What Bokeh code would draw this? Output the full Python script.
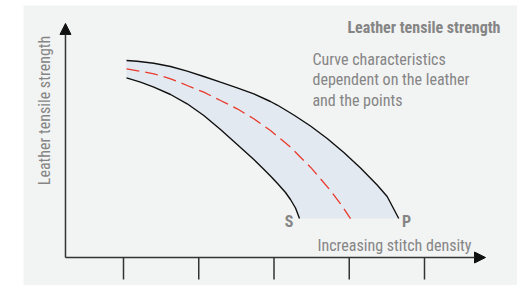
from bokeh.plotting import figure
from bokeh.models import Range1d, Label, Arrow, NormalHead, BoxAnnotation
from bokeh.embed import file_html
from bokeh.resources import INLINE

# ---- data (arbitrary units: x ticks at 1..5, y measured from the x-axis) ----
tick_positions = [1, 2, 3, 4, 5]

upper_x = [1.040, 1.182, 1.403, 1.625, 1.846, 2.067, 2.289, 2.511, 2.732, 2.953,
           3.043, 3.263, 3.485, 3.707, 3.928, 4.150, 4.371, 4.504, 4.658]
upper_y = [7.912, 7.884, 7.803, 7.671, 7.482, 7.269, 7.040, 6.815, 6.574, 6.265,
           6.124, 5.723, 5.281, 4.779, 4.217, 3.594, 2.912, 2.450, 1.566]

mid_x = [1.040, 1.403, 1.625, 1.846, 2.067, 2.289, 2.511, 2.732, 2.953, 3.086,
         3.219, 3.352, 3.485, 3.618, 3.751, 3.884, 4.017]
mid_y = [7.578, 7.378, 7.177, 6.908, 6.639, 6.305, 5.972, 5.570, 5.100, 4.767,
         4.430, 4.028, 3.627, 3.161, 2.691, 2.157, 1.566]

lower_x = [1.040, 1.226, 1.403, 1.625, 1.846, 2.067, 2.289, 2.511, 2.732, 2.847,
           2.953, 3.047, 3.153, 3.219, 3.286, 3.339]
lower_y = [7.217, 7.040, 6.839, 6.546, 6.173, 5.703, 5.141, 4.538, 3.936, 3.594,
           3.273, 2.972, 2.610, 2.329, 1.988, 1.566]

title = "Leather tensile strength"
note_lines = ["Curve characteristics", "dependent on the leather", "and the points"]
x_label = "Increasing stitch density"
y_label = "Leather tensile strength"

# ---- layout / style ----
FONT = "Roboto Condensed, Roboto"
GRAY = "#858585"
AX = "#333333"
origin_x = 0.229
x_arrow_end = 5.811
y_arrow_end = 9.40
tick_bottom = -0.884

p = figure(width=517, height=285, output_backend="svg", toolbar_location=None,
           x_range=Range1d(-0.6346, 6.236), y_range=Range1d(-1.124, 10.321),
           min_border=0, min_border_left=0, min_border_right=0,
           min_border_top=0, min_border_bottom=0)
p.axis.visible = False
p.grid.visible = False
p.outline_line_color = None
p.background_fill_color = "white"
p.border_fill_color = "white"

p.add_layout(BoxAnnotation(left=-0.329, top=10.12, fill_color="#f2f3f3",
                           fill_alpha=1, line_color=None, level="underlay"))

band_x = upper_x + lower_x[::-1]
band_y = upper_y + lower_y[::-1]
p.patch(band_x, band_y, fill_color="#e3e9f0", line_color=None)

p.line(upper_x, upper_y, line_color="#111111", line_width=1.4)
p.line(lower_x, lower_y, line_color="#111111", line_width=1.4)
p.line(mid_x, mid_y, line_color="#e8392b", line_width=1.3, line_dash="13 6")

p.segment(x0=tick_positions, y0=[0] * len(tick_positions),
          x1=tick_positions, y1=[tick_bottom] * len(tick_positions),
          line_color=AX, line_width=1.5)
p.add_layout(Arrow(end=NormalHead(size=11, fill_color="#111111", line_color="#111111"),
                   x_start=origin_x, y_start=0, x_end=origin_x, y_end=y_arrow_end,
                   line_color=AX, line_width=1.5))
p.add_layout(Arrow(end=NormalHead(size=11, fill_color="#111111", line_color="#111111"),
                   x_start=origin_x, y_start=0, x_end=x_arrow_end, y_end=0,
                   line_color=AX, line_width=1.5))

p.add_layout(Label(x=6.010, y=9.237, text=title, text_font=FONT, text_font_style="bold",
                   text_font_size="16px", text_color=GRAY, text_align="right",
                   text_baseline="middle"))
for i, line in enumerate(note_lines):
    p.add_layout(Label(x=3.511, y=7.952 - i * 0.823, text=line, text_font=FONT,
                       text_font_size="16px", text_color=GRAY, text_align="left",
                       text_baseline="middle"))
p.add_layout(Label(x=4.601, y=0.482, text=x_label, text_font=FONT,
                   text_font_size="16px", text_color=GRAY, text_align="center",
                   text_baseline="middle"))
p.add_layout(Label(x=-0.050, y=5.904, text=y_label, text_font=FONT,
                   text_font_size="16px", text_color=GRAY, text_align="center",
                   text_baseline="middle", angle=1.5708))
p.add_layout(Label(x=3.200, y=1.446, text="S", text_font=FONT, text_font_style="bold",
                   text_font_size="16px", text_color=GRAY, text_align="center",
                   text_baseline="middle"))
p.add_layout(Label(x=4.761, y=1.446, text="P", text_font=FONT, text_font_style="bold",
                   text_font_size="16px", text_color=GRAY, text_align="center",
                   text_baseline="middle"))

open("out.html", "w").write(file_html(p, INLINE))
